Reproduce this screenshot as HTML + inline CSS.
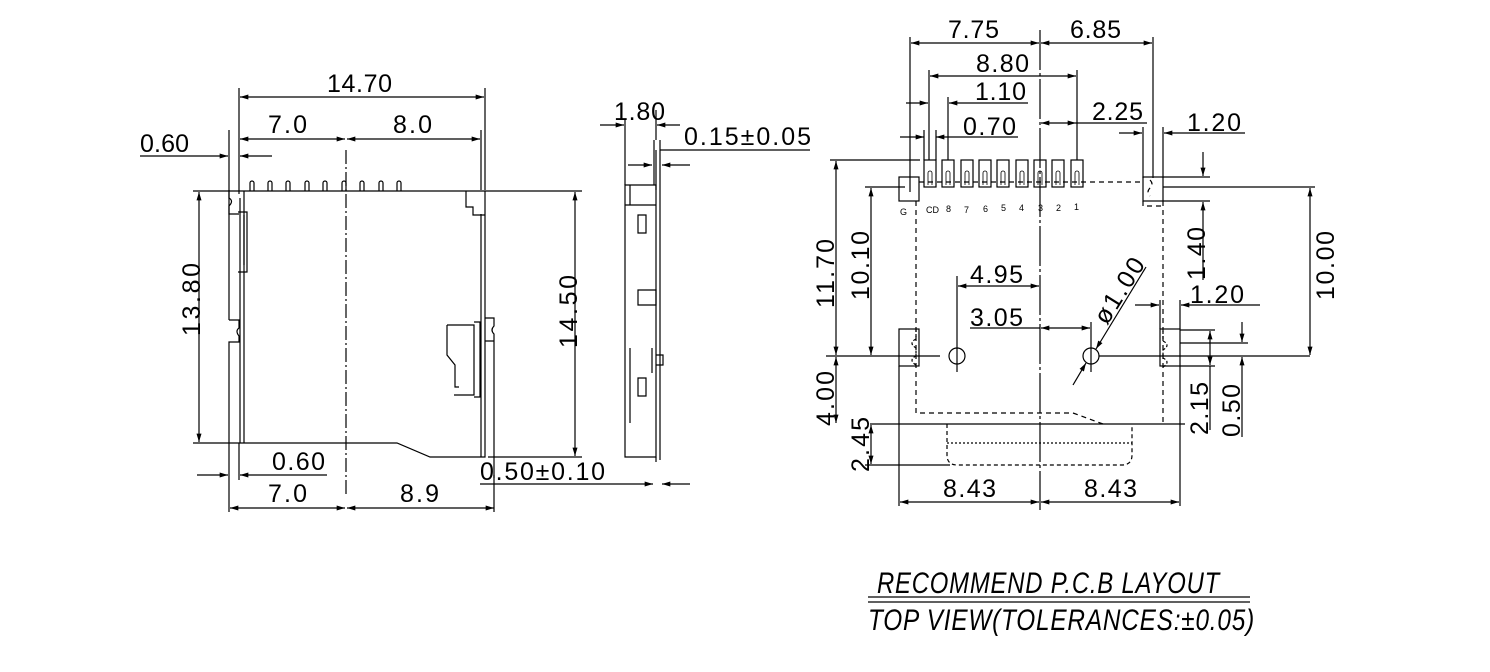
<!DOCTYPE html>
<html><head><meta charset="utf-8"><style>
html,body{margin:0;padding:0;background:#fff;}
svg{display:block}
text{font-family:"Liberation Sans",sans-serif;fill:#000;font-size:25px;letter-spacing:1px}
.s{font-size:9px;letter-spacing:0}
</style></head><body>
<svg width="1490" height="672" viewBox="0 0 1490 672" xmlns="http://www.w3.org/2000/svg">
<defs>
<marker id="a" viewBox="0 0 10 6" refX="10" refY="3" markerWidth="12" markerHeight="5" orient="auto-start-reverse" markerUnits="userSpaceOnUse"><path d="M0,0L10,3L0,6z" fill="#000"/></marker>
</defs>
<g stroke="#000" stroke-width="1.2" fill="none">
<line x1="239" y1="88" x2="239" y2="190"/><line x1="485" y1="88" x2="485" y2="190"/>
<line x1="240" y1="97" x2="484" y2="97" marker-start="url(#a)" marker-end="url(#a)"/>
<line x1="229" y1="130" x2="229" y2="190"/><line x1="481" y1="130" x2="481" y2="190"/>
<line x1="240" y1="139" x2="345" y2="139" marker-start="url(#a)" marker-end="url(#a)"/>
<line x1="347" y1="139" x2="480" y2="139" marker-start="url(#a)" marker-end="url(#a)"/>
<line x1="140" y1="156" x2="228" y2="156" marker-end="url(#a)"/>
<line x1="272" y1="156" x2="240" y2="156" marker-end="url(#a)"/>
<line x1="346" y1="150" x2="346" y2="495" stroke-dasharray="14,3,2,3"/>
<line x1="193" y1="191" x2="582" y2="191"/>
<path d="M229,190 v8 q5,3 0,8 v8 h10 M239,190 v4"/>
<path d="M244,191 V443 M240,198 V443"/>
<path d="M242,443 H397 L430,457 H485 V191 M481,214 V457"/>
<path d="M466,191 v16 h7 v8 h12"/>
<path d="M250,191 v-8 a2,2 0 0 1 4,0 v8 M268,191 v-8 a2,2 0 0 1 4,0 v8 M286,191 v-8 a2,2 0 0 1 4,0 v8 M305,191 v-8 a2,2 0 0 1 4,0 v8 M323,191 v-8 a2,2 0 0 1 4,0 v8 M342,191 v-8 a2,2 0 0 1 4,0 v8 M360,191 v-8 a2,2 0 0 1 4,0 v8 M379,191 v-8 a2,2 0 0 1 4,0 v8 M397,191 v-8 a2,2 0 0 1 4,0 v8"/>
<path d="M238,212 h9 v60 h-9 M244,215 v50"/>
<path d="M229,320 h10 v8 q-4,3 0,8 v6 h-10 V475 M229,320 V190"/>
<path d="M485,318 h9 v8 q-4,4 0,8 v7 h-9 M494,341 V478"/>
<path d="M447,325 h27 v70 h-20 M447,325 v30 l8,10 v22 h4 M474,322 h6 v75 h-6"/>
<line x1="199" y1="192" x2="199" y2="442" marker-start="url(#a)" marker-end="url(#a)"/>
<line x1="193" y1="443" x2="242" y2="443"/>
<line x1="575" y1="192" x2="575" y2="456" marker-start="url(#a)" marker-end="url(#a)"/>
<line x1="488" y1="457" x2="582" y2="457"/>
<line x1="197" y1="475" x2="228" y2="475" marker-end="url(#a)"/>
<line x1="327" y1="475" x2="240" y2="475" marker-end="url(#a)"/>
<line x1="239" y1="443" x2="239" y2="480"/>
<line x1="230" y1="508" x2="345" y2="508" marker-start="url(#a)" marker-end="url(#a)"/>
<line x1="347" y1="508" x2="494" y2="508" marker-start="url(#a)" marker-end="url(#a)"/>
<line x1="229" y1="475" x2="229" y2="512"/><line x1="494" y1="475" x2="494" y2="512"/>
<line x1="480" y1="484" x2="652" y2="484"/>
<line x1="652" y1="484" x2="653" y2="484" marker-end="url(#a)"/>
<line x1="690" y1="484" x2="662" y2="484" marker-end="url(#a)"/>
<path d="M625,185 h31 v272 h-31 z M625,205 h31 M630,185 v20"/>
<path d="M654,140 v45 M656,150 v40 M660,140 v320 M656,457 v5"/>
<line x1="600" y1="125" x2="624" y2="125" marker-end="url(#a)"/>
<line x1="680" y1="125" x2="657" y2="125" marker-end="url(#a)"/>
<line x1="625" y1="120" x2="625" y2="185"/><line x1="656" y1="110" x2="656" y2="140"/>
<line x1="628" y1="165" x2="652" y2="165" marker-end="url(#a)"/>
<line x1="690" y1="165" x2="662" y2="165" marker-end="url(#a)"/>
<line x1="660" y1="150" x2="810" y2="150"/>
<path d="M638,215 h8 v18 h-8 z M638,378 h8 v18 h-8 z M638,290 h18 v15 h-18 z M630,348 v75 M652,348 v25 M656,355 h7 v10 h-7"/>
<line x1="910" y1="37" x2="910" y2="192"/><line x1="1153" y1="37" x2="1153" y2="178"/>
<line x1="1040" y1="30" x2="1040" y2="510" stroke-dasharray="40,3,3,3"/>
<line x1="911" y1="43" x2="1039" y2="43" marker-start="url(#a)" marker-end="url(#a)"/>
<line x1="1041" y1="43" x2="1152" y2="43" marker-start="url(#a)" marker-end="url(#a)"/>
<line x1="929" y1="70" x2="929" y2="160"/><line x1="1077" y1="70" x2="1077" y2="160"/>
<line x1="930" y1="76" x2="1076" y2="76" marker-start="url(#a)" marker-end="url(#a)"/>
<line x1="906" y1="103" x2="928" y2="103" marker-end="url(#a)"/>
<line x1="1028" y1="103" x2="949" y2="103" marker-end="url(#a)"/>
<line x1="948" y1="97" x2="948" y2="160"/>
<line x1="1041" y1="123" x2="1076" y2="123" marker-start="url(#a)" marker-end="url(#a)"/>
<line x1="1076" y1="123" x2="1147" y2="123"/>
<line x1="900" y1="137" x2="924" y2="137" marker-end="url(#a)"/>
<line x1="1018" y1="137" x2="936" y2="137" marker-end="url(#a)"/>
<line x1="924" y1="130" x2="924" y2="160"/><line x1="936" y1="130" x2="936" y2="160"/>
<line x1="1119" y1="133" x2="1142" y2="133" marker-end="url(#a)"/>
<line x1="1245" y1="133" x2="1164" y2="133" marker-end="url(#a)"/>
<line x1="1143" y1="127" x2="1143" y2="178"/><line x1="1163" y1="127" x2="1163" y2="178"/>
<rect x="924" y="160" width="12" height="27"/><rect x="942" y="160" width="12" height="27"/><rect x="961" y="160" width="12" height="27"/><rect x="979" y="160" width="12" height="27"/><rect x="997" y="160" width="12" height="27"/><rect x="1016" y="160" width="12" height="27"/><rect x="1034" y="160" width="12" height="27"/><rect x="1052" y="160" width="12" height="27"/><rect x="1071" y="160" width="12" height="27"/>
<g stroke-width="0.8">
<path d="M928,185 v-12 a2,2 0 0 1 4,0 v12 M946,185 v-12 a2,2 0 0 1 4,0 v12 M965,185 v-12 a2,2 0 0 1 4,0 v12 M983,185 v-12 a2,2 0 0 1 4,0 v12 M1001,185 v-12 a2,2 0 0 1 4,0 v12 M1020,185 v-12 a2,2 0 0 1 4,0 v12 M1038,185 v-12 a2,2 0 0 1 4,0 v12 M1056,185 v-12 a2,2 0 0 1 4,0 v12 M1075,185 v-12 a2,2 0 0 1 4,0 v12"/>
</g>
<rect x="899" y="177" width="20" height="24"/><rect x="1143" y="177" width="20" height="24"/>
<path d="M916,201 V413 H1073 L1103,424 M1163,201 V424 M1143,201 v5 h20 M919,182 H1143 M1150,180 q4,4 0,8 q-4,4 0,8" stroke-dasharray="5,4"/>
<path d="M870,424 H1185"/>
<path d="M947,424 V455 q0,10 10,10 H1122 q10,0 10,-10 V424" stroke-dasharray="4,3"/>
<line x1="947" y1="443" x2="1132" y2="443" stroke-dasharray="2,2"/>
<rect x="899" y="329" width="20" height="37"/><rect x="1160" y="329" width="20" height="37"/>
<path d="M916,329 v10 q-8,4 0,9 v8 q-8,4 0,9 M1163,331 v10 q8,4 0,9 v8 q8,4 0,9" stroke-dasharray="3,2"/>
<circle cx="957" cy="356" r="8"/><circle cx="1091" cy="356" r="8"/>
<line x1="826" y1="356" x2="940" y2="356"/><line x1="1099" y1="356" x2="1310" y2="356"/>
<line x1="957" y1="340" x2="957" y2="372"/><line x1="1091" y1="340" x2="1091" y2="372"/>
<line x1="830" y1="160" x2="920" y2="160"/><line x1="865" y1="187" x2="905" y2="187"/>
<line x1="836" y1="161" x2="836" y2="355" marker-start="url(#a)" marker-end="url(#a)"/>
<line x1="871" y1="188" x2="871" y2="355" marker-start="url(#a)" marker-end="url(#a)"/>
<line x1="836" y1="357" x2="836" y2="423" marker-start="url(#a)" marker-end="url(#a)"/>
<line x1="871" y1="425" x2="871" y2="464" marker-start="url(#a)" marker-end="url(#a)"/>
<line x1="865" y1="465" x2="950" y2="465"/>
<line x1="899" y1="366" x2="899" y2="506"/><line x1="1180" y1="366" x2="1180" y2="506"/>
<line x1="900" y1="502" x2="1039" y2="502" marker-start="url(#a)" marker-end="url(#a)"/>
<line x1="1041" y1="502" x2="1179" y2="502" marker-start="url(#a)" marker-end="url(#a)"/>
<line x1="957" y1="276" x2="957" y2="340"/>
<line x1="958" y1="286" x2="1039" y2="286" marker-start="url(#a)" marker-end="url(#a)"/>
<line x1="970" y1="328" x2="1040" y2="328"/>
<line x1="1041" y1="328" x2="1090" y2="328" marker-start="url(#a)" marker-end="url(#a)"/>
<line x1="1091" y1="322" x2="1091" y2="340"/>
<line x1="1146" y1="267" x2="1096" y2="349" marker-end="url(#a)"/>
<line x1="1073" y1="385" x2="1086" y2="363" marker-end="url(#a)"/>
<line x1="1163" y1="187" x2="1315" y2="187"/>
<line x1="1163" y1="177" x2="1210" y2="177"/><line x1="1163" y1="201" x2="1210" y2="201"/>
<line x1="1203" y1="152" x2="1203" y2="176" marker-end="url(#a)"/>
<line x1="1203" y1="280" x2="1203" y2="202" marker-end="url(#a)"/>
<line x1="1310" y1="188" x2="1310" y2="355" marker-start="url(#a)" marker-end="url(#a)"/>
<line x1="1135" y1="305" x2="1159" y2="305" marker-end="url(#a)"/>
<line x1="1260" y1="305" x2="1181" y2="305" marker-end="url(#a)"/>
<line x1="1160" y1="300" x2="1160" y2="329"/><line x1="1180" y1="300" x2="1180" y2="329"/>
<line x1="1180" y1="330" x2="1215" y2="330"/><line x1="1180" y1="343" x2="1248" y2="343"/><line x1="1180" y1="366" x2="1215" y2="366"/>
<line x1="1210" y1="331" x2="1210" y2="365" marker-start="url(#a)" marker-end="url(#a)"/>
<line x1="1210" y1="366" x2="1210" y2="430"/>
<line x1="1242" y1="322" x2="1242" y2="342" marker-end="url(#a)"/>
<line x1="1242" y1="380" x2="1242" y2="357" marker-end="url(#a)"/>
<line x1="1242" y1="380" x2="1242" y2="437"/>
<line x1="868" y1="597" x2="1250" y2="597"/><line x1="868" y1="602" x2="1250" y2="602"/>
</g>
<text x="327" y="92" textLength="66">14.70</text>
<text x="268" y="133" textLength="40">7.0</text>
<text x="393" y="133" textLength="40">8.0</text>
<text x="140" y="152" textLength="50">0.60</text>
<text x="272" y="470" textLength="54">0.60</text>
<text x="268" y="502" textLength="40">7.0</text>
<text x="400" y="502" textLength="40">8.9</text>
<text x="480" y="480" textLength="126">0.50±0.10</text>
<text x="614" y="120" textLength="52">1.80</text>
<text x="684" y="145" textLength="128">0.15±0.05</text>
<text transform="translate(200,336) rotate(-90)" textLength="74">13.80</text>
<text transform="translate(577,348) rotate(-90)" textLength="74">14.50</text>
<text x="948" y="38" textLength="52">7.75</text>
<text x="1070" y="38" textLength="52">6.85</text>
<text x="976" y="72" textLength="54">8.80</text>
<text x="975" y="100" textLength="52">1.10</text>
<text x="1092" y="120" textLength="52">2.25</text>
<text x="963" y="135" textLength="54">0.70</text>
<text x="1187" y="131" textLength="55">1.20</text>
<text x="970" y="283" textLength="54">4.95</text>
<text x="970" y="326" textLength="54">3.05</text>
<text x="1190" y="303" textLength="55">1.20</text>
<text x="943" y="497" textLength="54">8.43</text>
<text x="1084" y="497" textLength="54">8.43</text>
<text transform="translate(834,308) rotate(-90)" textLength="70">11.70</text>
<text transform="translate(869,300) rotate(-90)" textLength="70">10.10</text>
<text transform="translate(834,426) rotate(-90)" textLength="56">4.00</text>
<text transform="translate(869,472) rotate(-90)" textLength="56">2.45</text>
<text transform="translate(1205,280) rotate(-90)" textLength="54">1.40</text>
<text transform="translate(1334,300) rotate(-90)" textLength="70">10.00</text>
<text transform="translate(1208,435) rotate(-90)" textLength="54">2.15</text>
<text transform="translate(1240,437) rotate(-90)" textLength="54">0.50</text>
<text transform="translate(1107,326) rotate(-58)" textLength="74">ø1.00</text>
<text class="s" x="900" y="215">G</text>
<text class="s" x="926" y="213">CD</text>
<text class="s" x="946" y="212">8</text>
<text class="s" x="964" y="213">7</text>
<text class="s" x="983" y="212">6</text>
<text class="s" x="1001" y="211">5</text>
<text class="s" x="1019" y="211">4</text>
<text class="s" x="1038" y="211">3</text>
<text class="s" x="1056" y="211">2</text>
<text class="s" x="1074" y="210">1</text>
<text x="877" y="593" font-style="italic" textLength="343" lengthAdjust="spacingAndGlyphs" style="font-size:30px">RECOMMEND P.C.B LAYOUT</text>
<text x="868" y="630" font-style="italic" textLength="387" lengthAdjust="spacingAndGlyphs" style="font-size:30px">TOP VIEW(TOLERANCES:±0.05)</text>
</svg>
</body></html>
